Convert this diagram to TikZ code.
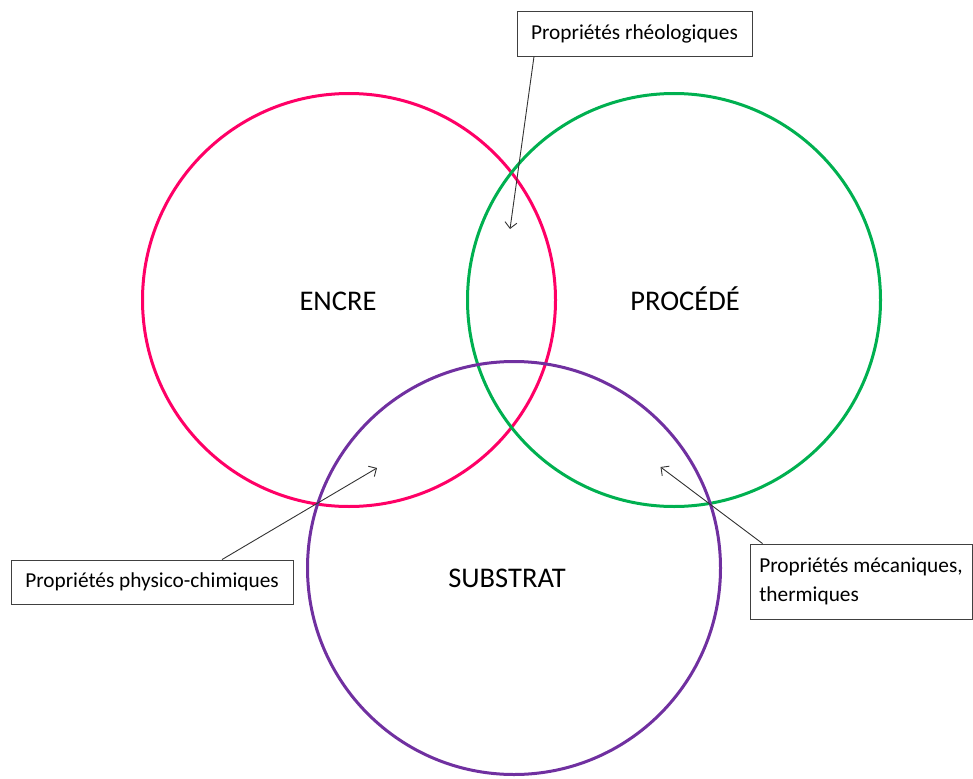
\documentclass[tikz,border=0pt]{standalone}
\usepackage{fontspec}
\setmainfont{Carlito}
\usetikzlibrary{arrows.meta}
\definecolor{encrecol}{HTML}{FF0066}
\definecolor{procol}{HTML}{00B050}
\definecolor{subcol}{HTML}{7030A0}
\begin{document}
\begin{tikzpicture}[x=1pt,y=-1pt,
  ring/.style={circle,draw,line width=3pt,minimum size=413pt,inner sep=0pt},
  biglabel/.style={anchor=base,font=\fontsize{28.5}{32}\selectfont,inner sep=0pt},
  infobox/.style={draw=black!75,line width=0.9pt,fill=white,font=\fontsize{21.3}{29}\selectfont,inner sep=0pt},
  pointer/.style={draw=black!80,line width=0.9pt,-{Straight Barb[length=6pt,width=12pt]}}]
\useasboundingbox (0,0) rectangle (973,778);
% circles
\node[ring,draw=encrecol] (encre) at (349,300) {};
\node[ring,draw=procol] (proc) at (674,300) {};
\node[ring,draw=subcol] (sub) at (514,568) {};
% labels
\node[biglabel] (lencre) at (338,310) {ENCRE};
\node[biglabel] (lproc) at (685,310) {PROCÉDÉ};
\node[biglabel] (lsub) at (507,587) {SUBSTRAT};
% boxes
\node[infobox,minimum width=235pt,minimum height=45pt] (b1) at (634.5,33.5) {Propriétés rhéologiques};
\node[infobox,minimum width=282pt,minimum height=44pt] (b2) at (152,582) {Propriétés physico-chimiques};
\node[infobox,minimum width=222pt,minimum height=75pt,align=left] (b3) at (861,581.5) {Propriétés mécaniques,\\thermiques};
% arrow targets
\coordinate (t1) at (510,229);
\coordinate (t2) at (377,468);
\coordinate (t3) at (660.5,467);
\draw[pointer] ([xshift=-100.5pt]b1.south) -- (t1);
\draw[pointer] ([xshift=70pt]b2.north) -- (t2);
\draw[pointer] ([xshift=13pt]b3.north west) -- (t3);
\end{tikzpicture}
\end{document}
